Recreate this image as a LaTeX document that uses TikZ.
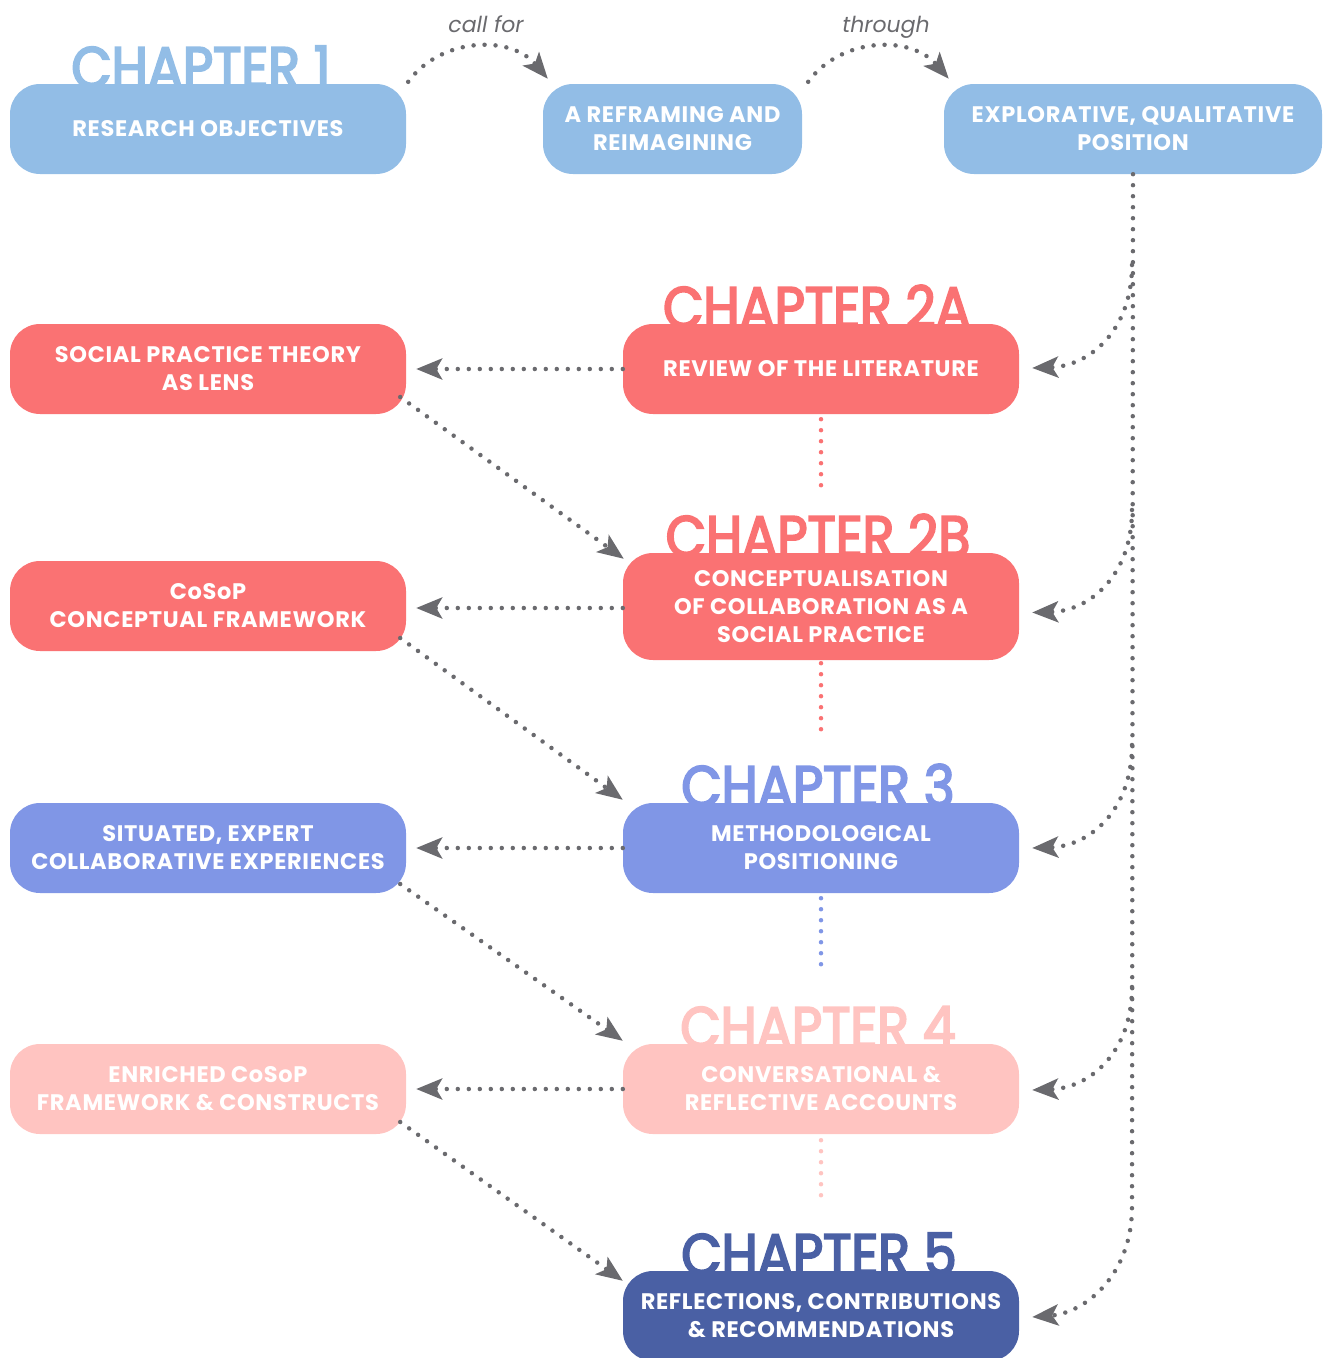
\documentclass[tikz,border=0pt]{standalone}
\usepackage{fontspec}
\setmainfont{Poppins}
\newfontfamily\chapfont{Poppins}[FakeStretch=0.9, FakeBold=3.5]
\newfontfamily\boxfont{Poppins}[LetterSpace=3]
\usetikzlibrary{arrows.meta,calc}

\definecolor{skyblue}{HTML}{92BDE6}
\definecolor{coral}{HTML}{FA7273}
\definecolor{periwinkle}{HTML}{8096E6}
\definecolor{blush}{HTML}{FFC4C1}
\definecolor{navy}{HTML}{4A60A4}
\definecolor{arrowgray}{HTML}{6A6A6E}

\pgfdeclarelayer{background}
\pgfsetlayers{background,main}

\tikzset{
  box/.style={rectangle, rounded corners=30pt, minimum width=396pt,
    minimum height=90pt, inner sep=0pt, text=white, align=center,
    font=\boxfont\bfseries\fontsize{22.5}{28}\selectfont},
  chap/.style={anchor=base, inner sep=0pt,
    font=\chapfont\fontsize{58}{58}\selectfont},
  dots/.style={draw=arrowgray, line width=4.5pt, line cap=round,
    dash pattern=on 0pt off 11pt},
  arrowtip/.style={-{Stealth[length=26pt,width=21pt,inset=6pt]}},
  verb/.style={inner sep=0pt, anchor=base, text=arrowgray,
    font=\itshape\fontsize{22}{22}\selectfont},
}

\begin{document}
\begin{tikzpicture}[x=1pt,y=-1pt]
\useasboundingbox (0,0) rectangle (1327,1358);

% ---- boxes ----
\node[box, fill=skyblue] (ro) at (208,129) {RESEARCH OBJECTIVES};
\node[box, fill=skyblue, minimum width=259pt] (rr) at (672.5,129) {A REFRAMING AND\\REIMAGINING};
\node[box, fill=skyblue, minimum width=378pt] (eq) at (1133,129) {EXPLORATIVE, QUALITATIVE\\POSITION};

\node[box, fill=coral] (spt) at (208,369) {SOCIAL PRACTICE THEORY\\AS LENS};
\node[box, fill=coral] (rev) at (821,369) {REVIEW OF THE LITERATURE};

\node[box, fill=coral] (cosop) at (208,606) {CoSoP\\CONCEPTUAL FRAMEWORK};
\node[box, fill=coral, minimum height=107pt] (conc) at (821,606.5) {CONCEPTUALISATION\\OF COLLABORATION AS A\\SOCIAL PRACTICE};

\node[box, fill=periwinkle] (sit) at (208,848) {SITUATED, EXPERT\\COLLABORATIVE EXPERIENCES};
\node[box, fill=periwinkle] (meth) at (821,848) {METHODOLOGICAL\\POSITIONING};

\node[box, fill=blush] (enr) at (208,1089) {ENRICHED CoSoP\\FRAMEWORK \& CONSTRUCTS};
\node[box, fill=blush] (conv) at (821,1089) {CONVERSATIONAL \&\\REFLECTIVE ACCOUNTS};

\node[box, fill=navy] (refl) at (821,1316) {REFLECTIONS, CONTRIBUTIONS\\\& RECOMMENDATIONS};

% ---- chapter headings, tucked behind the boxes ----
\begin{pgfonlayer}{background}
\node[chap, text=skyblue]    (ch1)  at ($(ro.north)+(-7,4)$)    {CHAPTER 1};
\node[chap, text=coral]      (ch2a) at ($(rev.north)+(-4,4)$)   {CHAPTER 2A};
\node[chap, text=coral]      (ch2b) at ($(conc.north)+(-3,4)$)  {CHAPTER 2B};
\node[chap, text=periwinkle] (ch3)  at ($(meth.north)+(-3,4)$)  {CHAPTER 3};
\node[chap, text=blush]      (ch4)  at ($(conv.north)+(-3,4)$)  {CHAPTER 4};
\node[chap, text=navy]       (ch5)  at ($(refl.north)+(-2,4)$)  {CHAPTER 5};
\end{pgfonlayer}

% ---- top row: arcs with verbs ----
\node[verb] (callfor) at (486,32) {call for};
\node[verb] (through) at (886,32) {through};
\draw[dots, arrowtip] ($(ro.north east)+(2,-2)$) .. controls (440,38) and (510,34) .. ($(rr.north west)+(5,-5)$);
\draw[dots, arrowtip] ($(rr.north east)+(6,-2)$) .. controls (840,38) and (910,34) .. ($(eq.north west)+(5,-5)$);

% ---- trunk from the position box down the right side ----
\coordinate (bend) at (1132,1207);
\draw[dots, arrowtip] (eq.south) -- (bend) .. controls (1132,1275) and (1085,1313) .. ($(refl.east)+(13,1)$);

\coordinate (b2a) at (1132,265);
\coordinate (b2b) at (1132,510);
\coordinate (b3)  at (1132,745);
\coordinate (b4)  at (1132,987);
\draw[dots, arrowtip] (b2a) .. controls (1132,330) and (1090,366) .. ($(rev.east)+(13,-1)$);
\draw[dots, arrowtip] (b2b) .. controls (1132,575) and (1090,611) .. ($(conc.east)+(13,6)$);
\draw[dots, arrowtip] (b3)  .. controls (1132,810) and (1090,846) .. ($(meth.east)+(13,0)$);
\draw[dots, arrowtip] (b4)  .. controls (1132,1052) and (1090,1088) .. ($(conv.east)+(13,1)$);

% ---- leftward arrows ----
\draw[dots, arrowtip, shorten >=10pt] (rev.west)  -- (spt.east);
\draw[dots, arrowtip, shorten >=10pt] ($(conc.west)+(0,1.5)$) -- ($(cosop.east)+(0,2)$);
\draw[dots, arrowtip, shorten >=10pt] (meth.west) -- (sit.east);
\draw[dots, arrowtip, shorten >=10pt] (conv.west) -- (enr.east);

% ---- diagonal arrows ----
\draw[dots, arrowtip] ($(spt.east)+(-6,28)$)   -- ($(conc.north west)+(1,6)$);
\draw[dots, arrowtip] ($(cosop.east)+(-6,32)$) -- ($(meth.north west)+(0,-3)$);
\draw[dots, arrowtip] ($(sit.east)+(-6,36)$)   -- ($(conv.north west)+(0,-3)$);
\draw[dots, arrowtip] ($(enr.east)+(-6,33)$)   -- ($(refl.north west)+(0,10)$);

% ---- chapter-to-chapter links ----
\draw[dots, draw=coral]      ($(rev.south)+(0,5)$)  -- ++(0,72);
\draw[dots, draw=coral]      ($(conc.south)+(0,3)$) -- ++(0,77);
\draw[dots, draw=periwinkle] ($(meth.south)+(0,5)$) -- ++(0,77);
\draw[dots, draw=blush]      ($(conv.south)+(0,6)$) -- ++(0,66);
\end{tikzpicture}
\end{document}
